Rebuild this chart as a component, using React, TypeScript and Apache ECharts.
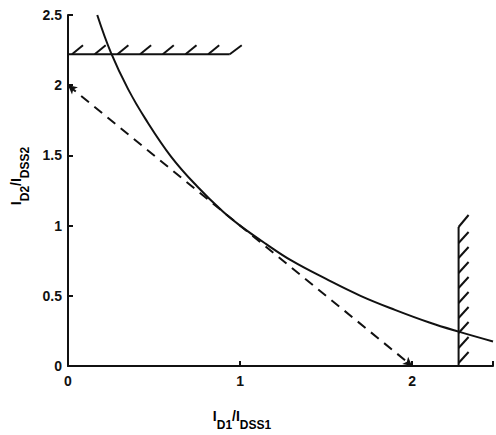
import React, { useEffect, useRef } from "react";
import * as echarts from "echarts";

// Solid curve: I_D2/I_DSS2 vs I_D1/I_DSS1
const curveX = [0.17, 0.25, 0.35, 0.45, 0.6, 0.75, 0.9, 1.0, 1.15, 1.3, 1.5, 1.7, 1.9, 2.1, 2.27, 2.47];
const curveY = [2.5, 2.23, 1.97, 1.76, 1.49, 1.28, 1.1, 1.0, 0.87, 0.75, 0.62, 0.5, 0.4, 0.31, 0.245, 0.175];

// Dashed tangent line end points
const dashStart = [0, 2];
const dashEnd = [2, 0];

// Hatched limits: [x0, y0, x1, y1]
const limitH = [0, 2.22, 0.94, 2.22];
const limitV = [2.27, 0, 2.27, 0.99];

const xTicks = [0, 1, 2];
const yTicks = [0, 0.5, 1, 1.5, 2, 2.5];

const FONT = "Liberation Sans";

export default function App() {
  const ref = useRef<HTMLDivElement>(null);
  useEffect(() => {
    if (!ref.current) return;
    const chart = echarts.init(ref.current, null, { renderer: "svg" });

    const renderHatch = (params: any, api: any) => {
      const p0 = api.coord([api.value(0), api.value(1)]);
      const p1 = api.coord([api.value(2), api.value(3)]);
      const style = { stroke: "#111", lineWidth: 2, fill: "none" };
      const children: any[] = [];
      const horizontal = Math.abs(p1[1] - p0[1]) < 1;
      if (horizontal) {
        children.push({ type: "line", shape: { x1: p0[0], y1: p0[1], x2: p1[0], y2: p1[1] }, style });
        for (let x = p0[0] + 4; x < p1[0] - 10; x += 22.7) {
          children.push({ type: "line", shape: { x1: x, y1: p0[1], x2: x + 11, y2: p0[1] - 9 }, style });
        }
        children.push({ type: "line", shape: { x1: p1[0], y1: p1[1], x2: p1[0] + 12, y2: p1[1] - 9 }, style });
      } else {
        const top = Math.min(p0[1], p1[1]);
        const bottom = Math.max(p0[1], p1[1]);
        children.push({ type: "line", shape: { x1: p0[0], y1: bottom, x2: p0[0], y2: top }, style });
        children.push({ type: "line", shape: { x1: p0[0], y1: top, x2: p0[0] + 10, y2: top - 12 }, style });
        for (let y = top + 16; y < bottom + 2; y += 15) {
          children.push({ type: "line", shape: { x1: p0[0], y1: y, x2: p0[0] + 10, y2: y - 11 }, style });
        }
      }
      return { type: "group", children };
    };

    const titleRich = {
      m: { fontFamily: FONT, fontSize: 14, fontWeight: "bold", color: "#111", lineHeight: 22, verticalAlign: "top" },
      s: { fontFamily: FONT, fontSize: 12, fontWeight: "bold", color: "#111", lineHeight: 12, verticalAlign: "bottom" },
    };

    chart.setOption({
      animation: false,
      backgroundColor: "#fff",
      grid: { left: 68, top: 15, right: 0, bottom: 69 },
      xAxis: {
        type: "value",
        min: 0,
        max: 2.47,
        interval: 1,
        axisLine: { lineStyle: { color: "#111", width: 2 } },
        axisTick: { inside: true, length: 5, lineStyle: { color: "#111", width: 2 } },
        axisLabel: {
          color: "#111",
          fontFamily: FONT,
          fontSize: 14,
          fontWeight: "bold",
          margin: 8,
          formatter: (v: number) => (xTicks.includes(v) ? String(v) : ""),
        },
        splitLine: { show: false },
      },
      yAxis: {
        type: "value",
        min: 0,
        max: 2.5,
        interval: 0.5,
        axisLine: { lineStyle: { color: "#111", width: 2 } },
        axisTick: { inside: true, length: 5, lineStyle: { color: "#111", width: 2 } },
        axisLabel: {
          color: "#111",
          fontFamily: FONT,
          fontSize: 14,
          fontWeight: "bold",
          margin: 6,
          formatter: (v: number) => (yTicks.includes(v) ? String(v) : ""),
        },
        splitLine: { show: false },
      },
      series: [
        {
          type: "line",
          data: curveX.map((x, i) => [x, curveY[i]]),
          smooth: 0.4,
          showSymbol: false,
          lineStyle: { color: "#111", width: 2 },
        },
        {
          type: "line",
          data: [],
          markLine: {
            silent: true,
            symbol: ["arrow", "arrow"],
            symbolSize: [7, 9],
            label: { show: false },
            lineStyle: { color: "#111", width: 2, type: [10, 7] },
            data: [[{ coord: dashStart }, { coord: dashEnd }]],
          },
        },
        {
          type: "custom",
          renderItem: renderHatch,
          encode: { x: [0, 2], y: [1, 3] },
          data: [limitH, limitV],
          clip: false,
        },
      ],
      graphic: [
        {
          type: "text",
          x: 242,
          y: 420,
          style: {
            text: "{m|I}{s|D1}{m|/I}{s|DSS1}",
            rich: titleRich,
            align: "center",
            verticalAlign: "middle",
          },
        },
        {
          type: "text",
          x: 20,
          y: 176,
          rotation: Math.PI / 2,
          style: {
            text: "{m|I}{s|D2}{m|/I}{s|DSS2}",
            rich: titleRich,
            align: "center",
            verticalAlign: "middle",
          },
        },
      ],
    });
    return () => chart.dispose();
  }, []);
  return (
    <div
      ref={ref}
      style={{ position: "fixed", left: 0, top: 0, width: 496, height: 435 }}
    />
  );
}
